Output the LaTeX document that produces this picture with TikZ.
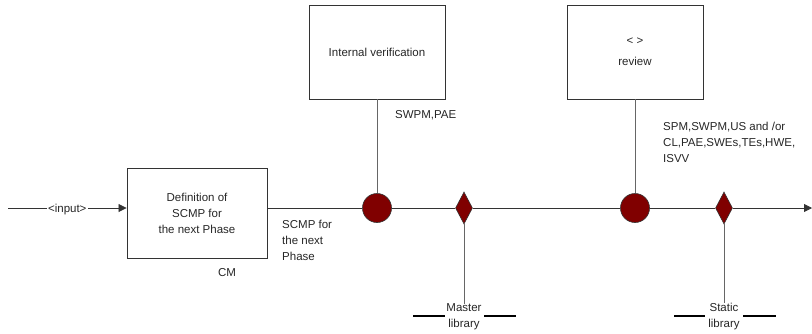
\documentclass[tikz,border=0pt]{standalone}
\usepackage{fontspec}
\setmainfont{Liberation Sans}
\usetikzlibrary{shapes.geometric,arrows.meta}
\definecolor{milestone}{HTML}{800000}
\definecolor{linegray}{HTML}{333333}
\definecolor{stemgray}{HTML}{666666}
\tikzset{
  x=1pt, y=-1pt,
  every node/.style={font=\fontsize{11.5}{16}\selectfont, text=black!85},
  actbox/.style={draw=linegray, line width=0.9pt, minimum width=136pt, minimum height=94pt, align=center, inner sep=0pt},
  review/.style={circle, draw=black!80, fill=milestone, minimum size=29pt, inner sep=0pt, line width=0.6pt},
  libpoint/.style={diamond, draw=black!80, fill=milestone, minimum width=17pt, minimum height=32pt, inner sep=0pt, aspect=0.53, line width=0.6pt},
  flow/.style={draw=linegray, line width=0.8pt},
  stem/.style={draw=stemgray, line width=0.9pt},
  flowarrow/.style={flow, -{Triangle[length=8pt,width=8pt]}},
  libbar/.style={draw=black, line width=2.6pt},
  note/.style={align=left, inner sep=0pt},
}
\begin{document}
\begin{tikzpicture}
\useasboundingbox (0,0) rectangle (812,333);

% flow entry and end points
\coordinate (start) at (8,208);
\coordinate (finish) at (812,208);

% activity boxes
\node[actbox, minimum width=140pt, minimum height=90pt] (def) at (197,213) {Definition of\\SCMP for\\the next Phase};
\node[actbox] (iv) at (377,52) {Internal verification};
\node[actbox] (rev) at (635,52) {< >\\[5pt]review};

% milestones on the main flow
\node[review] (c1) at (377,208) {};
\node[libpoint] (d1) at (464,208) {};
\node[review] (c2) at (635,208) {};
\node[libpoint] (d2) at (724,208) {};

% libraries
\node[align=center, inner sep=0pt] (ml) at (464,317) {Master\\library};
\node[align=center, inner sep=0pt] (sl) at (724,317) {Static\\library};

% main flow
\draw[flowarrow] (start) -- node[fill=white, inner sep=1.5pt, yshift=-1.5pt] {<input>} (def.west |- start);
\draw[flow] (def.east |- start) -- (c1.west);
\draw[flow] (c1.east) -- (d1.west);
\draw[flow] (d1.east) -- (c2.west);
\draw[flow] (c2.east) -- (d2.west);
\draw[flowarrow] (d2.east) -- (finish);

% vertical links
\draw[stem] (iv.south) -- (c1.north);
\draw[stem] (rev.south) -- (c2.north);
\draw[stem] (d1.south) -- (ml.north);
\draw[stem] (d2.south) -- (sl.north);

% library bars
\draw[libbar] (413,316) -- (445,316);
\draw[libbar] (484,316) -- (516,316);
\draw[libbar] (674,316) -- (705,316);
\draw[libbar] (743,316) -- (776,316);

% annotations
\node[note, anchor=west] (out) at (282,240) {SCMP for\\the next\\Phase};
\node (cm) at (227,273) {CM};
\node[note, anchor=west] (ivp) at (395,115) {SWPM,PAE};
\node[note, anchor=west] (revp) at (663,142) {SPM,SWPM,US and /or\\CL,PAE,SWEs,TEs,HWE,\\ISVV};
\end{tikzpicture}
\end{document}
